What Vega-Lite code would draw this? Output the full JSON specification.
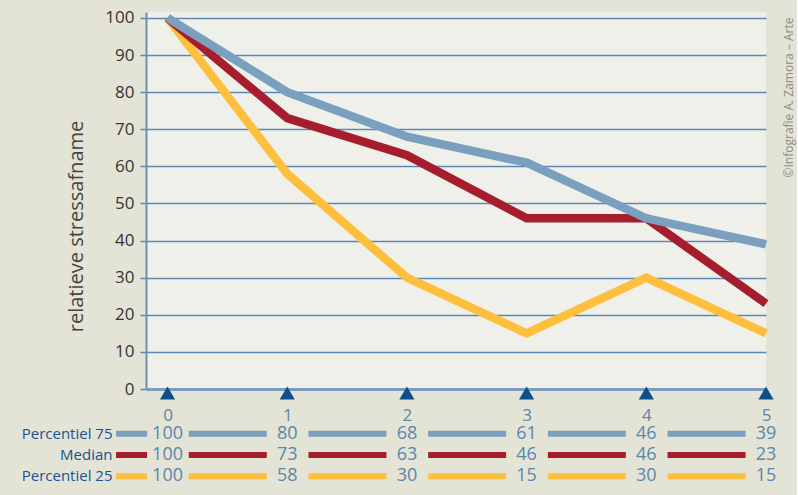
{
  "$schema": "https://vega.github.io/schema/vega-lite/v6.json",
  "background": "#e3e4d6",
  "padding": {"left": 21, "top": 0, "right": 2, "bottom": 9},
  "config": {"font": "Open Sans", "view": {"stroke": null}},
  "spacing": 0,
  "datasets": {
    "stress": [
      {"x": 0, "series": "Percentiel 25", "value": 100},
      {"x": 1, "series": "Percentiel 25", "value": 58},
      {"x": 2, "series": "Percentiel 25", "value": 30},
      {"x": 3, "series": "Percentiel 25", "value": 15},
      {"x": 4, "series": "Percentiel 25", "value": 30},
      {"x": 5, "series": "Percentiel 25", "value": 15},
      {"x": 0, "series": "Median", "value": 100},
      {"x": 1, "series": "Median", "value": 73},
      {"x": 2, "series": "Median", "value": 63},
      {"x": 3, "series": "Median", "value": 46},
      {"x": 4, "series": "Median", "value": 46},
      {"x": 5, "series": "Median", "value": 23},
      {"x": 0, "series": "Percentiel 75", "value": 100},
      {"x": 1, "series": "Percentiel 75", "value": 80},
      {"x": 2, "series": "Percentiel 75", "value": 68},
      {"x": 3, "series": "Percentiel 75", "value": 61},
      {"x": 4, "series": "Percentiel 75", "value": 46},
      {"x": 5, "series": "Percentiel 75", "value": 39}
    ],
    "credit": [{"label": "©Infografie A. Zamora – Arte"}]
  },
  "data": {"name": "stress"},
  "resolve": {"scale": {"x": "shared", "color": "shared"}},
  "vconcat": [
    {
      "width": 620,
      "height": 377,
      "view": {"fill": "#eff0ea", "stroke": null},
      "layer": [
        {
          "mark": {"type": "line", "strokeWidth": 8.5, "strokeJoin": "miter", "strokeCap": "butt"},
          "encoding": {
            "x": {"field": "x", "type": "quantitative",
              "scale": {"domain": [-0.18, 5], "nice": false, "zero": false},
              "axis": {"values": [0, 1, 2, 3, 4, 5], "format": "d", "grid": false, "ticks": false, "title": null,
                "domainColor": "#7c9dbd", "domainWidth": 3, "labelColor": "#5b86ad",
                "labelFontSize": 17, "labelPadding": 18, "labelFlush": false}},
            "y": {"field": "value", "type": "quantitative",
              "scale": {"domain": [0, 101.6], "nice": false},
              "axis": {"title": "relatieve stressafname", "values": [0, 10, 20, 30, 40, 50, 60, 70, 80, 90, 100],
                "format": "d", "labelOverlap": false,
                "grid": true, "gridColor": "#5b87b5", "gridWidth": 1.5,
                "domainColor": "#6b90b4", "domainWidth": 2,
                "tickColor": "#5b87b5", "tickSize": 6, "tickWidth": 1.5,
                "labelColor": "#333333", "labelFontSize": 17, "labelPadding": 6,
                "titleFontSize": 20, "titleFontWeight": "normal", "titleColor": "#444444", "titlePadding": 18, "titleY": 214}},
            "color": {"field": "series", "type": "nominal",
              "scale": {"domain": ["Percentiel 75", "Median", "Percentiel 25"], "range": ["#7a9fbf", "#a61e2e", "#fdbf3c"]},
              "legend": null}
          }
        },
        {
          "transform": [{"filter": "datum.series === 'Median'"}],
          "mark": {"type": "point", "shape": "triangle-up", "filled": true, "size": 230, "color": "#0b4f8c", "opacity": 1, "yOffset": 4},
          "encoding": {
            "x": {"field": "x", "type": "quantitative",
              "axis": {"values": [0, 1, 2, 3, 4, 5], "format": "d", "grid": false, "ticks": false, "title": null,
                "domainColor": "#7c9dbd", "domainWidth": 3, "labelColor": "#5b86ad",
                "labelFontSize": 17, "labelPadding": 18, "labelFlush": false}},
            "y": {"datum": 0, "type": "quantitative",
              "axis": {"title": "relatieve stressafname", "values": [0, 10, 20, 30, 40, 50, 60, 70, 80, 90, 100],
                "format": "d", "labelOverlap": false,
                "grid": true, "gridColor": "#5b87b5", "gridWidth": 1.5,
                "domainColor": "#6b90b4", "domainWidth": 2,
                "tickColor": "#5b87b5", "tickSize": 6, "tickWidth": 1.5,
                "labelColor": "#333333", "labelFontSize": 17, "labelPadding": 6,
                "titleFontSize": 20, "titleFontWeight": "normal", "titleColor": "#444444", "titlePadding": 18, "titleY": 214}}
          }
        },
        {
          "data": {"name": "credit"},
          "mark": {"type": "text", "angle": 270, "align": "left", "baseline": "middle", "fontSize": 12, "color": "#8c8c84"},
          "encoding": {
            "x": {"datum": 5.19, "type": "quantitative",
              "axis": {"values": [0, 1, 2, 3, 4, 5], "format": "d", "grid": false, "ticks": false, "title": null,
                "domainColor": "#7c9dbd", "domainWidth": 3, "labelColor": "#5b86ad",
                "labelFontSize": 17, "labelPadding": 18, "labelFlush": false}},
            "y": {"datum": 57, "type": "quantitative",
              "axis": {"title": "relatieve stressafname", "values": [0, 10, 20, 30, 40, 50, 60, 70, 80, 90, 100],
                "format": "d", "labelOverlap": false,
                "grid": true, "gridColor": "#5b87b5", "gridWidth": 1.5,
                "domainColor": "#6b90b4", "domainWidth": 2,
                "tickColor": "#5b87b5", "tickSize": 6, "tickWidth": 1.5,
                "labelColor": "#333333", "labelFontSize": 17, "labelPadding": 6,
                "titleFontSize": 20, "titleFontWeight": "normal", "titleColor": "#444444", "titlePadding": 18, "titleY": 214}},
            "text": {"field": "label", "type": "nominal"}
          }
        }
      ]
    },
    {
      "width": 620,
      "height": 64,
      "view": {"stroke": null},
      "encoding": {
        "y": {"field": "series", "type": "nominal",
          "scale": {"domain": ["Percentiel 75", "Median", "Percentiel 25"]},
          "axis": {"title": null, "ticks": false, "domain": false, "labelColor": "#1a5192", "labelFontSize": 15, "labelPadding": 34}}
      },
      "layer": [
        {
          "transform": [{"filter": "datum.x === 0"}],
          "mark": {"type": "rule", "strokeWidth": 6, "strokeDash": [78, 41.69], "strokeDashOffset": 47},
          "encoding": {
            "x": {"datum": -0.43, "type": "quantitative", "axis": null},
            "x2": {"datum": 5},
            "color": {"field": "series", "type": "nominal", "legend": null}
          }
        },
        {
          "mark": {"type": "text", "fontSize": 18, "color": "#5b86ad"},
          "encoding": {
            "x": {"field": "x", "type": "quantitative", "axis": null},
            "text": {"field": "value"}
          }
        }
      ]
    }
  ]
}
